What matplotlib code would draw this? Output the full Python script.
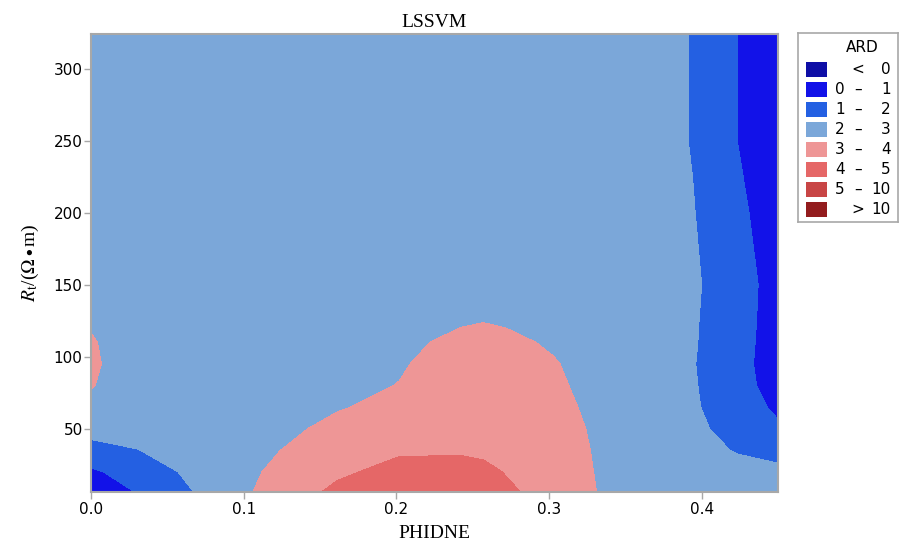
import numpy as np
import matplotlib
matplotlib.use('Agg')
import matplotlib.pyplot as plt
from matplotlib.patches import Rectangle

plt.rcParams.update({
    'font.family': 'DejaVu Sans',
    'mathtext.fontset': 'stix',
})

# grid (PHIDNE along x, Rt along y, ARD values)
phidne = [0, 0.03, 0.066, 0.101, 0.131, 0.161, 0.202, 0.242, 0.257, 0.272, 0.303,
          0.333, 0.363, 0.394, 0.424, 0.45]
rt = [6, 20, 35, 50, 65, 80, 95, 110, 125, 150, 200, 250, 324]

ard_rows = [
    [0.60, 1.02, 1.97, 2.90, 3.50, 4.25, 4.45, 4.40, 4.30, 4.10, 3.77, 2.95, 2.50, 2.50, 2.50, 2.45],
    [0.85, 1.41, 2.20, 2.85, 3.26, 3.80, 4.37, 4.25, 4.15, 3.97, 3.55, 2.92, 2.50, 2.50, 2.45, 2.30],
    [1.70, 1.97, 2.45, 2.70, 3.09, 3.45, 3.85, 3.92, 3.88, 3.75, 3.45, 2.89, 2.50, 2.45, 1.90, 1.55],
    [2.30, 2.45, 2.50, 2.60, 2.85, 3.26, 3.60, 3.75, 3.72, 3.65, 3.38, 2.84, 2.50, 2.30, 1.50, 1.13],
    [2.75, 2.50, 2.50, 2.55, 2.70, 2.92, 3.28, 3.55, 3.55, 3.50, 3.25, 2.78, 2.50, 2.12, 1.45, 0.83],
    [3.05, 2.50, 2.50, 2.50, 2.60, 2.80, 3.02, 3.35, 3.40, 3.38, 3.12, 2.76, 2.50, 2.08, 1.40, 0.53],
    [3.15, 2.50, 2.50, 2.50, 2.55, 2.70, 2.93, 3.33, 3.35, 3.30, 3.05, 2.70, 2.50, 2.05, 1.35, 0.44],
    [3.08, 2.50, 2.50, 2.50, 2.50, 2.65, 2.85, 3.15, 3.20, 3.15, 2.91, 2.65, 2.50, 2.08, 1.40, 0.46],
    [2.90, 2.50, 2.50, 2.50, 2.50, 2.60, 2.75, 2.93, 2.98, 2.92, 2.80, 2.60, 2.50, 2.10, 1.40, 0.53],
    [2.60, 2.50, 2.50, 2.50, 2.50, 2.55, 2.60, 2.70, 2.70, 2.70, 2.65, 2.55, 2.50, 2.15, 1.40, 0.60],
    [2.50, 2.50, 2.50, 2.50, 2.50, 2.50, 2.50, 2.50, 2.50, 2.50, 2.50, 2.50, 2.50, 2.05, 1.20, 0.46],
    [2.50, 2.50, 2.50, 2.50, 2.50, 2.50, 2.50, 2.50, 2.50, 2.50, 2.50, 2.50, 2.50, 1.95, 0.98, 0.50],
    [2.50, 2.50, 2.50, 2.50, 2.50, 2.50, 2.50, 2.50, 2.50, 2.50, 2.50, 2.50, 2.50, 1.95, 0.98, 0.50],
]

levels = [-1000, 0, 1, 2, 3, 4, 5, 10, 1000]
level_colors = ['#0E0EA6', '#1212E8', '#2460E2', '#7BA7D9',
                '#EE9696', '#E56767', '#C84545', '#931C1E']
legend_left = ['', '0', '1', '2', '3', '4', '5', '']
legend_mid = ['<', '\u2013', '\u2013', '\u2013', '\u2013', '\u2013', '\u2013', '>']
legend_right = ['0', '1', '2', '3', '4', '5', '10', '10']

SPINE = '#A8A8A8'

W, H = 901, 545
fig = plt.figure(figsize=(W / 100, H / 100), dpi=100)
ax = fig.add_axes([91 / W, (H - 492) / H, 687 / W, 458 / H])

Z = np.array(ard_rows)
ax.contourf(phidne, rt, Z, levels=levels, colors=level_colors)

ax.set_xlim(0, 0.45)
ax.set_ylim(6, 324)
ax.set_xticks([0.0, 0.1, 0.2, 0.3, 0.4])
ax.set_xticklabels(['0.0', '0.1', '0.2', '0.3', '0.4'])
ax.set_yticks([50, 100, 150, 200, 250, 300])
ax.tick_params(axis='both', labelsize=11, length=5, width=1, color=SPINE, pad=2)
ax.tick_params(axis='y', pad=1)
for s in ax.spines.values():
    s.set_color(SPINE)
    s.set_linewidth(1.5)

ax.set_title('LSSVM', family='Liberation Serif', fontsize=14, pad=5)
ax.set_xlabel('PHIDNE', family='Liberation Serif', fontsize=14, labelpad=6)
ax.set_ylabel(r'$R_{\mathrm{t}}$/($\Omega\bullet$m)', family='Liberation Serif',
              fontsize=14, labelpad=9)

# legend box drawn by hand so the numbers line up in columns
lax = fig.add_axes([798 / W, (H - 222) / H, 100 / W, 189 / H])
lax.set_xlim(798, 898)
lax.set_ylim(222, 33)
lax.set_xticks([])
lax.set_yticks([])
for s in lax.spines.values():
    s.set_color(SPINE)
    s.set_linewidth(1.2)
lax.text(862, 48, 'ARD', ha='center', va='center', fontsize=11)
for i, c in enumerate(level_colors):
    yc = 69 + i * 20
    lax.add_patch(Rectangle((806, yc - 7.5), 21, 15, facecolor=c, edgecolor='none'))
    lax.text(840, yc, legend_left[i], ha='center', va='center', fontsize=11)
    lax.text(858, yc, legend_mid[i], ha='center', va='center', fontsize=11)
    lax.text(891, yc, legend_right[i], ha='right', va='center', fontsize=11)

fig.savefig('out.png', dpi=100)
